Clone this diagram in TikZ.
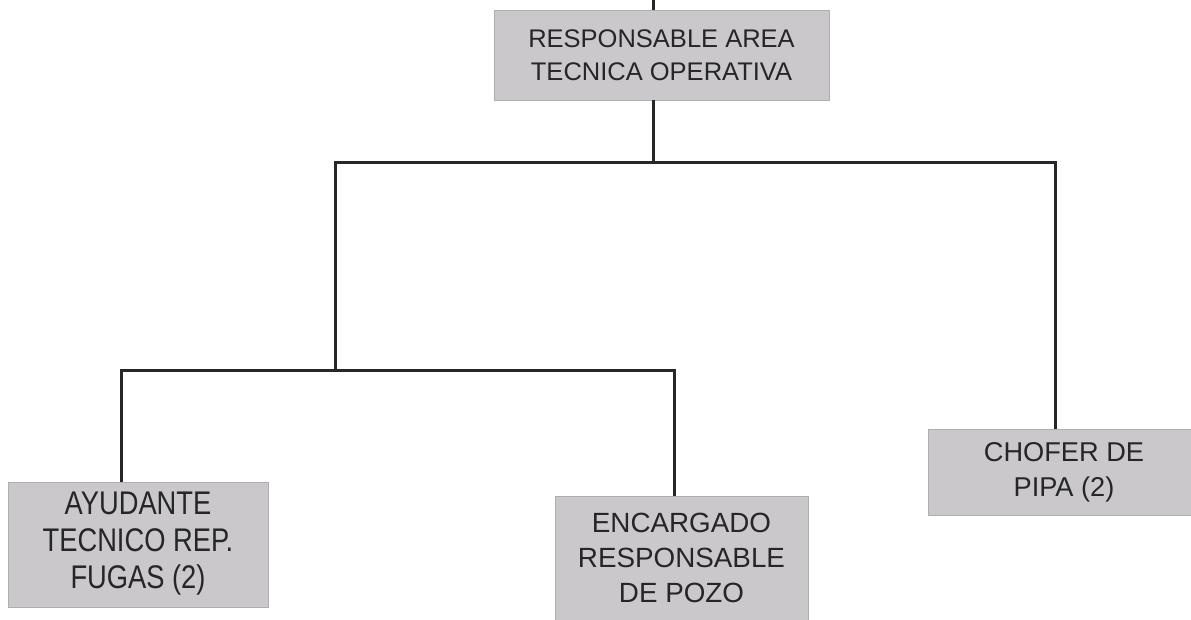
\documentclass[tikz,border=0pt]{standalone}
\usepackage{fontspec}
\usepackage{graphicx}
\setmainfont{Liberation Sans}
\definecolor{boxfill}{RGB}{202,200,203}
\definecolor{boxedge}{RGB}{175,173,176}
\definecolor{linecol}{RGB}{40,38,42}
\begin{document}
\begin{tikzpicture}[x=1pt,y=-1pt,
  orgbox/.style={fill=boxfill,draw=boxedge,line width=0.8pt,inner sep=0pt,align=center,text=black!85},
  conn/.style={draw=linecol,line width=3pt}]
\useasboundingbox (0,0) rectangle (1191,620);
\node[orgbox,minimum width=335,minimum height=90,font=\fontsize{25.5}{33}\selectfont] (top) at (661.5,55)
  {RESPONSABLE AREA\\TECNICA OPERATIVA};
\node[orgbox,minimum width=260,minimum height=125] (ayu) at (138,544.5)
  {\fontsize{27.3}{30.8}\selectfont\scalebox{1}[1.2]{\begin{tabular}{@{}c@{}}AYUDANTE\\TECNICO REP.\\FUGAS (2)\end{tabular}}};
\node[orgbox,minimum width=253,minimum height=124,anchor=north,font=\fontsize{27.8}{35}\selectfont] (enc) at (681.5,496)
  {ENCARGADO\\RESPONSABLE\\DE POZO};
\node[orgbox,minimum width=272,minimum height=86,font=\fontsize{27.2}{35}\selectfont] (cho) at (1064,472)
  {CHOFER DE\\PIPA (2)};
\coordinate (t0) at (653,0);
\coordinate (j1) at (653,163);
\coordinate (jl) at (335,163);
\coordinate (jr) at (1055,163);
\coordinate (j2) at (335,370);
\coordinate (jal) at (121,370);
\coordinate (jar) at (674,370);
\draw[conn] (t0) -- (t0 |- top.north);
\draw[conn] (top.south -| t0) -- (j1);
\draw[conn,line cap=rect] (jl) -- (jr);
\draw[conn] (jl) -- (j2);
\draw[conn] (jr) -- (jr |- cho.north);
\draw[conn,line cap=rect] (jal) -- (jar);
\draw[conn] (jal) -- (jal |- ayu.north);
\draw[conn] (jar) -- (jar |- enc.north);
\end{tikzpicture}
\end{document}
